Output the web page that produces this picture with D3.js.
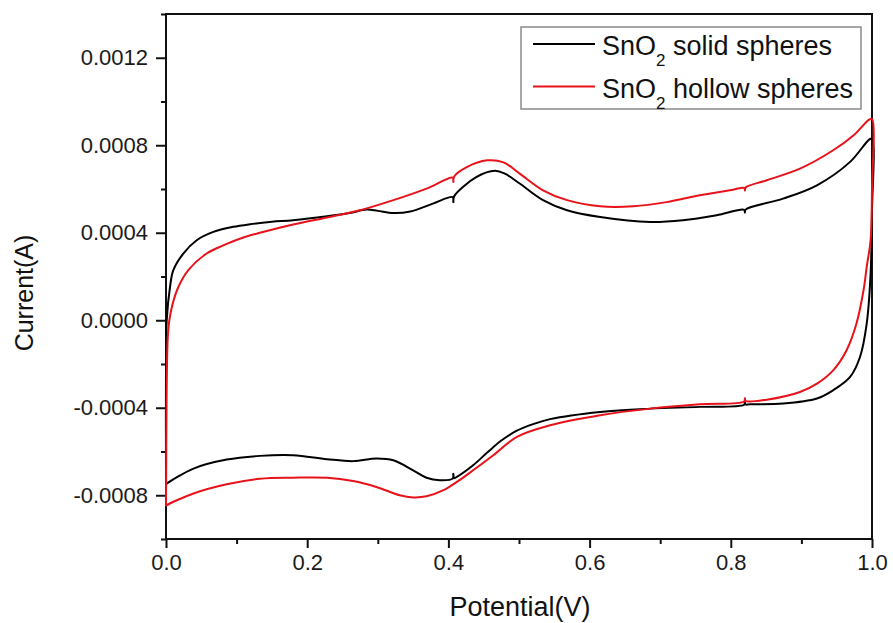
<!DOCTYPE html>
<html>
<head>
<meta charset="utf-8">
<script src="https://cdn.jsdelivr.net/npm/d3@7"></script>
<style>
  body { margin: 0; background: #fff; }
  svg { display: block; font-family: "Liberation Sans", Arial, sans-serif; }
</style>
</head>
<body>
<svg id="chart"></svg>
<script>
// Series names for the legend
var seriesNames = ["solid spheres", "hollow spheres"];

// SnO2 solid spheres: potential (V) and current (A), one full CV loop
var solidPotential = [
  0, 0, 0.001, 0.0057, 0.0104, 0.0245, 0.0435, 0.067, 0.095, 0.119, 0.15, 0.18, 0.228, 0.26, 0.284,
  0.3, 0.322, 0.346, 0.378, 0.406, 0.407, 0.408, 0.44, 0.466, 0.48, 0.501, 0.534, 0.568, 0.615,
  0.686, 0.732, 0.78, 0.819, 0.82, 0.821, 0.874, 0.922, 0.969, 0.996, 1.0,
  1.0, 0.998, 0.9925, 0.983, 0.969, 0.945, 0.922, 0.874, 0.827, 0.821, 0.82, 0.819, 0.756, 0.686,
  0.615, 0.544, 0.52, 0.497, 0.475, 0.455, 0.435, 0.412, 0.408, 0.407, 0.406, 0.388, 0.369, 0.35,
  0.322, 0.298, 0.265, 0.228, 0.18, 0.133, 0.086, 0.039, 0.001, 0
];
var solidCurrent = [
  -0.00075, -0.0002, 0, 0.000152, 0.000229, 0.000305, 0.000366, 0.000404, 0.000427, 0.000439,
  0.00045, 0.000457, 0.000475, 0.00049, 0.000506, 0.0005, 0.00049, 0.000497, 0.000533, 0.000563,
  0.00054, 0.000566, 0.000655, 0.000683, 0.00067, 0.000625, 0.000549, 0.000503, 0.000472, 0.000449,
  0.000457, 0.00048, 0.000505, 0.000492, 0.000506, 0.000556, 0.000617, 0.000724, 0.000826, 0.00083,
  0.0005, 0.00021, -0.000015, -0.000168, -0.000259, -0.00032, -0.000358, -0.000381, -0.000384,
  -0.000385, -0.000375, -0.000386, -0.000396, -0.000404, -0.000419, -0.000452, -0.000475, -0.000505,
  -0.00055, -0.000605, -0.000663, -0.000716, -0.000722, -0.000702, -0.000724, -0.000731, -0.00072,
  -0.000686, -0.00064, -0.000632, -0.000644, -0.000635, -0.000617, -0.00062, -0.000637, -0.000678,
  -0.000747, -0.00075
];

// SnO2 hollow spheres
var hollowPotential = [
  0, 0.001, 0.0025, 0.0047, 0.0095, 0.0175, 0.0316, 0.0576, 0.081, 0.1095, 0.133, 0.18, 0.228,
  0.275, 0.322, 0.369, 0.406, 0.407, 0.408, 0.426, 0.455, 0.478, 0.501, 0.534, 0.568, 0.615, 0.662,
  0.709, 0.756, 0.803, 0.819, 0.82, 0.821, 0.851, 0.898, 0.945, 0.974, 0.996, 1.0,
  1.0, 0.998, 0.9925, 0.988, 0.978, 0.964, 0.945, 0.922, 0.898, 0.851, 0.821, 0.82, 0.819, 0.756,
  0.686, 0.615, 0.544, 0.497, 0.4636, 0.435, 0.412, 0.393, 0.369, 0.35, 0.331, 0.298, 0.265, 0.228,
  0.18, 0.133, 0.086, 0.039, 0.001, 0
];
var hollowCurrent = [
  -0.00085, -0.0003, -0.00008, 0, 0.000076, 0.000152, 0.000229, 0.000305, 0.000342, 0.000378,
  0.0004, 0.000438, 0.00047, 0.000503, 0.000549, 0.000602, 0.000652, 0.000632, 0.000656, 0.0007,
  0.000731, 0.000722, 0.00067, 0.000594, 0.000549, 0.000521, 0.000521, 0.00054, 0.000571, 0.000597,
  0.000605, 0.000593, 0.000607, 0.00064, 0.000693, 0.000777, 0.000846, 0.000917, 0.00092,
  0.0006, 0.000366, 0.000244, 0.000137, -0.000015, -0.000137, -0.000229, -0.00029, -0.000328,
  -0.000363, -0.000369, -0.000356, -0.000371, -0.000384, -0.000404, -0.000434, -0.00048, -0.000533,
  -0.000617, -0.000686, -0.000739, -0.000777, -0.000805, -0.00081, -0.0008, -0.000762, -0.000735,
  -0.00072, -0.00072, -0.000725, -0.00075, -0.000792, -0.000846, -0.00085
];

// Axis ticks
var xTicks = [0, 0.2, 0.4, 0.6, 0.8, 1.0];
var xTickLabels = ["0.0", "0.2", "0.4", "0.6", "0.8", "1.0"];
var xMinorTicks = [0.1, 0.3, 0.5, 0.7, 0.9];
var yTicks = [-0.0008, -0.0004, 0, 0.0004, 0.0008, 0.0012];
var yTickLabels = ["-0.0008", "-0.0004", "0.0000", "0.0004", "0.0008", "0.0012"];
var yMinorTicks = [-0.001, -0.0006, -0.0002, 0.0002, 0.0006, 0.001, 0.0014];

function main() {
    const margin = { top: 14, right: 21, bottom: 84, left: 166 };
    const width = 706;
    const height = 525;

    const svg = d3.select('#chart')
      .attr('width', 893)
      .attr('height', 623);

    const g = svg.append('g')
      .attr('transform', `translate(${margin.left}, ${margin.top})`);

    const xScale = d3.scaleLinear().domain([0, 1.0]).range([0, width]);
    const yScale = d3.scaleLinear().domain([-0.001, 0.0014]).range([height, 0]);

    // major and minor ticks, outward
    const xAxis = d3.axisBottom(xScale).tickValues(xTicks)
      .tickFormat((d, i) => xTickLabels[i]).tickSize(9).tickSizeOuter(0).tickPadding(6);
    const xMinor = d3.axisBottom(xScale).tickValues(xMinorTicks)
      .tickFormat('').tickSize(5).tickSizeOuter(0);
    const yAxis = d3.axisLeft(yScale).tickValues(yTicks)
      .tickFormat((d, i) => yTickLabels[i]).tickSize(10).tickSizeOuter(0).tickPadding(8);
    const yMinor = d3.axisLeft(yScale).tickValues(yMinorTicks)
      .tickFormat('').tickSize(5).tickSizeOuter(0);

    [xAxis, xMinor].forEach(a => {
      g.append('g').attr('class', 'x axis')
        .attr('transform', `translate(0, ${height})`)
        .call(a);
    });
    [yAxis, yMinor].forEach(a => {
      g.append('g').attr('class', 'y axis').call(a);
    });

    g.selectAll('.axis .domain').remove();
    g.selectAll('.axis line').attr('stroke', '#111').attr('stroke-width', 2);
    g.selectAll('.axis text')
      .attr('font-size', 22)
      .attr('fill', '#1a1a1a')
      .style('font-family', '"Liberation Sans", Arial, sans-serif');

    // plot frame
    g.append('rect')
      .attr('x', 0).attr('y', 0)
      .attr('width', width).attr('height', height)
      .attr('fill', 'none')
      .attr('stroke', '#111')
      .attr('stroke-width', 2);

    const line = d3.line()
      .x(d => xScale(d[0]))
      .y(d => yScale(d[1]))
      .curve(d3.curveCatmullRom.alpha(0.5));

    const series = [
      { name: seriesNames[0], color: '#000000', data: d3.zip(solidPotential, solidCurrent) },
      { name: seriesNames[1], color: '#e8121a', data: d3.zip(hollowPotential, hollowCurrent) }
    ];

    g.selectAll('.cv')
      .data(series)
      .enter()
      .append('path')
      .attr('class', 'cv')
      .attr('d', d => line(d.data))
      .attr('fill', 'none')
      .attr('stroke', d => d.color)
      .attr('stroke-width', 2)
      .attr('stroke-linejoin', 'round');

    // legend
    const legend = svg.append('g');
    legend.append('rect')
      .attr('x', 521).attr('y', 27)
      .attr('width', 340).attr('height', 82)
      .attr('fill', '#fff')
      .attr('stroke', '#8a8a8a')
      .attr('stroke-width', 1.5);

    series.forEach((s, i) => {
      const yy = 44 + i * 42.5;
      legend.append('line')
        .attr('x1', 533).attr('x2', 595)
        .attr('y1', yy).attr('y2', yy)
        .attr('stroke', s.color)
        .attr('stroke-width', 2);
      const t = legend.append('text')
        .attr('x', 602).attr('y', yy + 11)
        .attr('font-size', 27)
        .attr('fill', '#111');
      t.append('tspan').text('SnO');
      t.append('tspan').attr('font-size', 17).attr('dy', 11).text('2');
      t.append('tspan').attr('dy', -11).text(' ' + s.name);
    });

    // axis titles
    svg.append('text')
      .attr('x', 520).attr('y', 616)
      .attr('text-anchor', 'middle')
      .attr('font-size', 27)
      .attr('fill', '#111')
      .text('Potential(V)');

    svg.append('text')
      .attr('transform', 'translate(33, 293) rotate(-90)')
      .attr('text-anchor', 'middle')
      .attr('font-size', 25)
      .attr('fill', '#111')
      .text('Current(A)');
}
main();
</script>
</body>
</html>
